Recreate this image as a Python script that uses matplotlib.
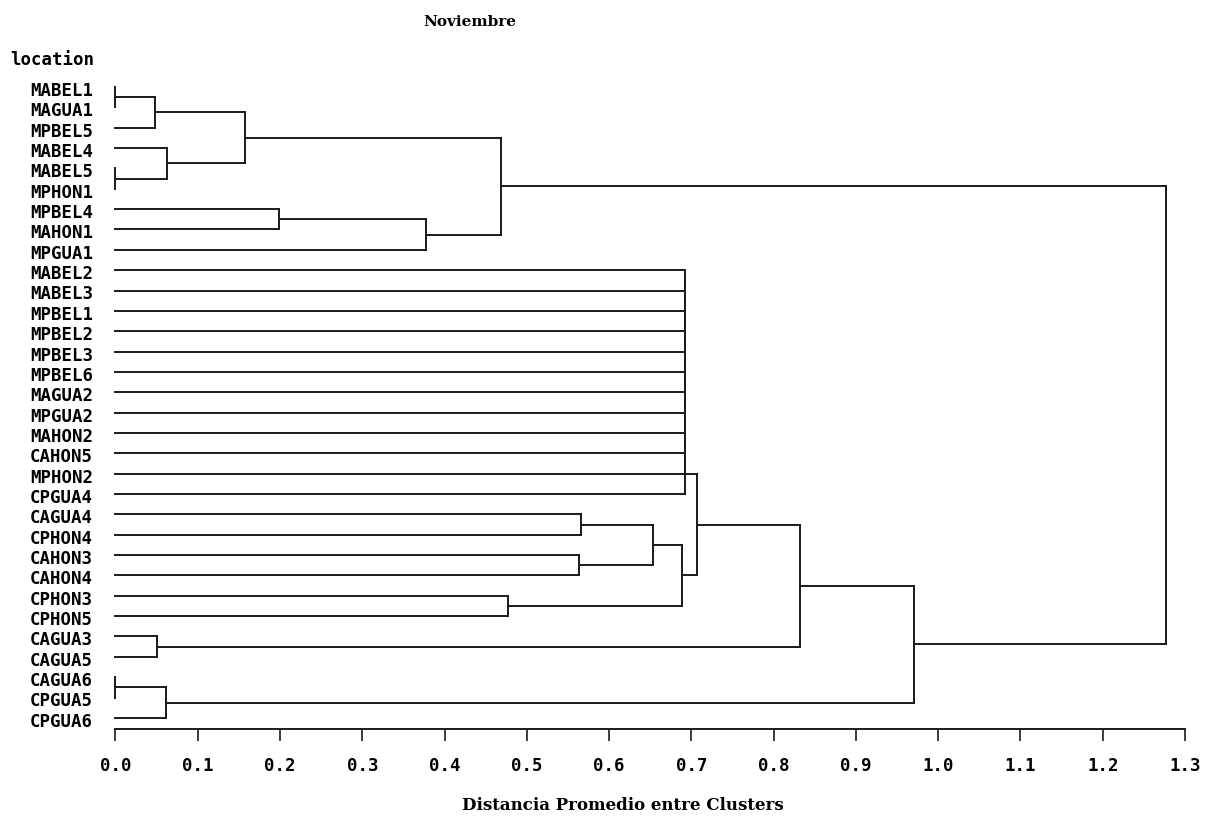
import matplotlib
matplotlib.use('agg')
import matplotlib.pyplot as plt
import numpy as np

# hojas del dendrograma, en el orden en que aparecen de arriba a abajo
leaf_labels = [
    'MABEL1', 'MAGUA1', 'MPBEL5', 'MABEL4', 'MABEL5', 'MPHON1', 'MPBEL4',
    'MAHON1', 'MPGUA1', 'MABEL2', 'MABEL3', 'MPBEL1', 'MPBEL2', 'MPBEL3',
    'MPBEL6', 'MAGUA2', 'MPGUA2', 'MAHON2', 'CAHON5', 'MPHON2', 'CPGUA4',
    'CAGUA4', 'CPHON4', 'CAHON3', 'CAHON4', 'CPHON3', 'CPHON5', 'CAGUA3',
    'CAGUA5', 'CAGUA6', 'CPGUA5', 'CPGUA6',
]

# grupo empatado que se une todo a la misma distancia
tie_members = ['MABEL2', 'MABEL3', 'MPBEL1', 'MPBEL2', 'MPBEL3', 'MPBEL6',
               'MAGUA2', 'MPGUA2', 'MAHON2', 'CAHON5', 'MPHON2', 'CPGUA4']
tie_height = 0.692

# (nodo, hijo izquierdo, hijo derecho, distancia)
merges_top = [
    ('A', 'MABEL1', 'MAGUA1', 0.0),
    ('B', 'A', 'MPBEL5', 0.048),
    ('C', 'MABEL5', 'MPHON1', 0.0),
    ('D', 'MABEL4', 'C', 0.063),
    ('E', 'B', 'D', 0.157),
    ('F', 'MPBEL4', 'MAHON1', 0.199),
    ('G', 'F', 'MPGUA1', 0.378),
    ('H', 'E', 'G', 0.469),
]
merges_bottom = [
    ('I', 'CAGUA4', 'CPHON4', 0.566),
    ('J', 'CAHON3', 'CAHON4', 0.564),
    ('K', 'I', 'J', 0.653),
    ('L', 'CPHON3', 'CPHON5', 0.477),
    ('N', 'K', 'L', 0.689),
    ('M', 'TIE', 'N', 0.707),
    ('P', 'CAGUA3', 'CAGUA5', 0.050),
    ('O', 'M', 'P', 0.832),
    ('R', 'CAGUA6', 'CPGUA5', 0.0),
    ('S', 'R', 'CPGUA6', 0.061),
    ('Q', 'O', 'S', 0.970),
    ('ROOT', 'H', 'Q', 1.277),
]

x_ticks = [round(0.1 * k, 1) for k in range(14)]

title = 'Noviembre'
x_label = 'Distancia Promedio entre Clusters'
y_label = 'location'

# construir la lista completa de uniones
merges = list(merges_top)
prev = tie_members[0]
for k, name in enumerate(tie_members[1:]):
    node = 'TIE' if k == len(tie_members) - 2 else f'T{k}'
    merges.append((node, prev, name, tie_height))
    prev = node
merges += merges_bottom

mono = ['DejaVu Sans Mono']
serif = ['DejaVu Serif']

W, H = 1211, 816
fig = plt.figure(figsize=(W / 100, H / 100), dpi=100)
ax_left, ax_right = 115.5, 1185.0
ax_top, ax_bottom = 75.0, 729.0
ax = fig.add_axes([ax_left / W, 1 - ax_bottom / H,
                   (ax_right - ax_left) / W, (ax_bottom - ax_top) / H])

pos = {name: (0.0, float(i)) for i, name in enumerate(leaf_labels)}
line_kw = dict(color='#1a1a1a', lw=1.4, clip_on=False, solid_capstyle='projecting')
for node, left, right, h in merges:
    x1, y1 = pos[left]
    x2, y2 = pos[right]
    ax.plot([x1, h], [y1, y1], **line_kw)
    ax.plot([x2, h], [y2, y2], **line_kw)
    ax.plot([h, h], [y1, y2], **line_kw)
    pos[node] = (h, (y1 + y2) / 2)

# la rama raíz no se extiende más allá del último nodo
ax.set_xlim(0, 1.3)
leaf_step = 20.35
y0 = 87.0
ax.set_ylim((ax_bottom - y0) / leaf_step, (ax_top - y0) / leaf_step)

for i, name in enumerate(leaf_labels):
    ax.text(-0.0799, i + 0.44, name, transform=ax.get_yaxis_transform(),
            ha='left', va='baseline', family=mono, fontweight='bold',
            fontsize=12.5, color='black')

for side in ['top', 'right', 'left']:
    ax.spines[side].set_visible(False)
ax.spines['bottom'].set_linewidth(1.4)
ax.spines['bottom'].set_color('#1a1a1a')
ax.set_yticks([])
ax.set_xticks(x_ticks)
ax.set_xticklabels([f'{t:.1f}' for t in x_ticks])
ax.tick_params(axis='x', direction='out', length=8.5, width=1.2,
               color='#1a1a1a', pad=12)
for lbl in ax.get_xticklabels():
    lbl.set_family(mono)
    lbl.set_fontweight('bold')
    lbl.set_fontsize(12.5)

fig.text(470 / W, 1 - 22 / H, title, ha='center', va='center',
         family=serif, fontweight='bold', fontsize=11)
fig.text(623 / W, 1 - 805 / H, x_label, ha='center', va='center',
         family=serif, fontweight='bold', fontsize=12)
fig.text(10 / W, 1 - 60 / H, y_label, ha='left', va='center',
         family=mono, fontweight='bold', fontsize=12.5)

fig.savefig('out.png', dpi=100, facecolor='white')
plt.close()
